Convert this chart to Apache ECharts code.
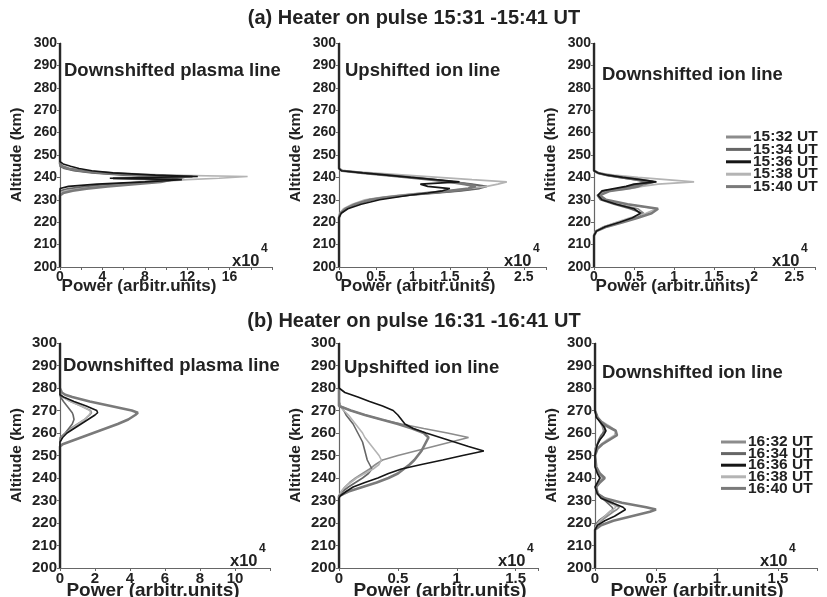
<!DOCTYPE html>
<html>
<head>
<meta charset="utf-8">
<script src="https://cdn.jsdelivr.net/npm/echarts@6/dist/echarts.min.js"></script>
<style>html,body{margin:0;padding:0;background:#fff}#c{width:827px;height:597px}</style>
</head>
<body>
<div id="c"></div>
<script>
// ---------- DATA (power in units of 10^4, altitude in km) ----------
const namesTop = ['15:32 UT', '15:34 UT', '15:36 UT', '15:38 UT', '15:40 UT'];
const namesBot = ['16:32 UT', '16:34 UT', '16:36 UT', '16:38 UT', '16:40 UT'];
const altTicks = [200, 210, 220, 230, 240, 250, 260, 270, 280, 290, 300];

// (a) Downshifted plasma line
const altA1 = [200, 232, 233, 234, 235, 236, 237, 238, 239, 239.6, 240.4, 241, 242, 243, 244, 245, 246, 247, 300];
const a1_1532 = [0, 0, 0, 0.3, 1.5, 3.5, 6, 8.5, 10.5, 11.5, 12, 7, 3.5, 1.5, 0.6, 0.2, 0, 0, 0];
const a1_1534 = [0, 0, 0, 0, 0.8, 2.5, 5, 8, 10, 11, 11.5, 6, 3, 1.3, 0.4, 0, 0, 0, 0];
const a1_1536 = [0, 0, 0, 0, 0, 0.8, 3.5, 8, 11.5, 4.7, 13, 9, 5, 3, 1.8, 1, 0.3, 0, 0];
const a1_1538 = [0, 0, 0, 0.5, 2, 4, 6.5, 9, 12, 15, 17.7, 10, 5, 2.2, 0.8, 0.2, 0, 0, 0];
const a1_1540 = [0, 0, 0.3, 1.2, 2.5, 4.5, 7, 9.5, 10.5, 5, 12.5, 7.5, 4, 2, 0.8, 0.2, 0, 0, 0];

// (a) Upshifted ion line
const altA2 = [200, 222, 224, 226, 228, 230, 231, 232, 233, 234, 235, 236, 237, 238, 239, 240, 241, 242, 243, 244, 300];
const a2_1532 = [0, 0, 0.02, 0.08, 0.2, 0.4, 0.6, 0.9, 1.25, 1.6, 1.85, 1.95, 1.75, 1.5, 1.25, 0.95, 0.65, 0.32, 0.04, 0, 0];
const a2_1534 = [0, 0, 0.02, 0.1, 0.22, 0.45, 0.65, 0.95, 1.3, 1.65, 1.9, 2.0, 1.8, 1.55, 1.28, 0.97, 0.65, 0.33, 0.04, 0, 0];
const a2_1536 = [0, 0, 0.03, 0.12, 0.3, 0.55, 0.75, 0.95, 1.2, 1.4, 1.5, 1.2, 1.1, 1.63, 1.3, 0.97, 0.65, 0.32, 0.03, 0, 0];
const a2_1538 = [0, 0, 0.01, 0.06, 0.18, 0.35, 0.55, 0.8, 1.1, 1.45, 1.75, 2.0, 2.15, 2.27, 1.8, 1.35, 0.9, 0.45, 0.05, 0, 0];
const a2_1540 = [0, 0, 0.02, 0.09, 0.22, 0.42, 0.62, 0.9, 1.2, 1.5, 1.75, 1.85, 1.7, 1.5, 1.25, 0.95, 0.64, 0.32, 0.04, 0, 0];

// (a) Downshifted ion line
const altA3 = [200, 214, 216, 218, 220, 222, 224, 226, 228, 230, 232, 234, 235, 236, 237, 238, 239, 240, 241, 242, 243, 300];
const a3_1532 = [0, 0, 0.03, 0.15, 0.33, 0.5, 0.62, 0.55, 0.3, 0.1, 0.05, 0.15, 0.35, 0.5, 0.6, 0.72, 0.55, 0.35, 0.17, 0.05, 0, 0];
const a3_1534 = [0, 0, 0.02, 0.12, 0.3, 0.55, 0.6, 0.45, 0.25, 0.08, 0.04, 0.12, 0.3, 0.45, 0.55, 0.65, 0.5, 0.32, 0.15, 0.04, 0, 0];
const a3_1536 = [0, 0, 0.03, 0.14, 0.32, 0.48, 0.58, 0.5, 0.28, 0.1, 0.05, 0.1, 0.25, 0.4, 0.5, 0.78, 0.58, 0.36, 0.17, 0.05, 0, 0];
const a3_1538 = [0, 0, 0.02, 0.12, 0.28, 0.45, 0.65, 0.78, 0.4, 0.12, 0.06, 0.18, 0.45, 0.6, 0.8, 1.25, 0.9, 0.55, 0.25, 0.07, 0, 0];
const a3_1540 = [0, 0, 0.03, 0.16, 0.36, 0.55, 0.72, 0.8, 0.42, 0.15, 0.07, 0.2, 0.4, 0.55, 0.62, 0.74, 0.56, 0.35, 0.17, 0.05, 0, 0];

// (b) Downshifted plasma line
const altB1 = [200, 253, 254, 255, 256, 258, 260, 262, 264, 266, 268, 269, 270, 272, 274, 276, 277, 278, 280, 300];
const b1_1632 = [0, 0, 0, 0, 0, 0, 0.3, 0.6, 1.0, 1.4, 1.7, 1.8, 1.75, 1.2, 0.6, 0.15, 0.05, 0, 0, 0];
const b1_1634 = [0, 0, 0, 0, 0, 0.05, 0.3, 0.5, 0.7, 0.8, 0.75, 0.7, 0.6, 0.4, 0.2, 0.03, 0, 0, 0, 0];
const b1_1636 = [0, 0, 0, 0, 0, 0.15, 0.4, 0.8, 1.2, 1.6, 2.0, 2.15, 2.1, 1.5, 0.8, 0.2, 0, 0, 0, 0];
const b1_1638 = [0, 0, 0, 0, 0, 0.1, 0.35, 0.7, 1.05, 1.4, 1.65, 1.75, 1.7, 1.2, 0.6, 0.15, 0.05, 0, 0, 0];
const b1_1640 = [0, 0, 0, 0.15, 0.5, 1.2, 1.9, 2.6, 3.3, 3.9, 4.3, 4.45, 4.1, 2.9, 1.7, 0.7, 0.3, 0.1, 0, 0];

// (b) Upshifted ion line
const altB2 = [200, 231, 232, 234, 236, 238, 240, 242, 244, 246, 248, 250, 252, 254, 256, 258, 260, 262, 264, 266, 268, 270, 272, 274, 276, 278, 280, 300];
const b2_1632 = [0, 0, 0, 0.02, 0.05, 0.09, 0.14, 0.2, 0.26, 0.31, 0.37, 0.5, 0.65, 0.8, 0.95, 1.1, 0.92, 0.72, 0.53, 0.36, 0.22, 0.1, 0.01, 0, 0, 0, 0, 0];
const b2_1634 = [0, 0, 0, 0.03, 0.08, 0.14, 0.2, 0.25, 0.28, 0.26, 0.24, 0.23, 0.22, 0.21, 0.2, 0.18, 0.16, 0.14, 0.12, 0.09, 0.06, 0.04, 0.01, 0, 0, 0, 0, 0];
const b2_1636 = [0, 0, 0.01, 0.06, 0.12, 0.22, 0.33, 0.42, 0.53, 0.7, 0.88, 1.05, 1.23, 1.1, 0.98, 0.86, 0.74, 0.63, 0.56, 0.53, 0.5, 0.46, 0.37, 0.26, 0.16, 0.05, 0, 0];
const b2_1638 = [0, 0, 0, 0.02, 0.05, 0.1, 0.15, 0.22, 0.29, 0.34, 0.36, 0.34, 0.31, 0.28, 0.25, 0.22, 0.2, 0.17, 0.14, 0.11, 0.08, 0.04, 0.01, 0, 0, 0, 0, 0];
const b2_1640 = [0, 0, 0, 0.08, 0.2, 0.32, 0.42, 0.5, 0.55, 0.6, 0.64, 0.67, 0.7, 0.72, 0.74, 0.76, 0.72, 0.62, 0.5, 0.36, 0.22, 0.1, 0, 0, 0, 0, 0, 0];

// (b) Downshifted ion line
const altB3 = [200, 217, 219, 221, 223, 225, 226, 227, 229, 231, 233, 236, 238, 240, 242, 245, 250, 253, 255, 257, 259, 261, 263, 265, 267, 270, 300];
const b3_1632 = [0, 0, 0, 0.05, 0.1, 0.15, 0.18, 0.2, 0.12, 0.05, 0.02, 0.01, 0.03, 0.05, 0.02, 0, 0, 0, 0.02, 0.04, 0.06, 0.07, 0.06, 0.04, 0.02, 0, 0];
const b3_1634 = [0, 0, 0, 0.03, 0.08, 0.12, 0.15, 0.14, 0.1, 0.06, 0.02, 0.01, 0.04, 0.07, 0.03, 0.01, 0, 0.01, 0.02, 0.03, 0.05, 0.08, 0.08, 0.05, 0.02, 0, 0];
const b3_1636 = [0, 0, 0.02, 0.08, 0.16, 0.22, 0.25, 0.23, 0.14, 0.05, 0.02, 0, 0.02, 0.04, 0.02, 0, 0, 0.01, 0.02, 0.04, 0.07, 0.09, 0.07, 0.04, 0.01, 0, 0];
const b3_1638 = [0, 0, 0.01, 0.04, 0.08, 0.12, 0.15, 0.17, 0.15, 0.08, 0.03, 0.01, 0.03, 0.06, 0.03, 0.01, 0, 0.01, 0.05, 0.1, 0.16, 0.17, 0.12, 0.06, 0.02, 0, 0];
const b3_1640 = [0, 0, 0.05, 0.15, 0.3, 0.45, 0.5, 0.42, 0.22, 0.08, 0.02, 0.01, 0.04, 0.08, 0.04, 0.01, 0, 0.02, 0.06, 0.12, 0.18, 0.17, 0.1, 0.05, 0.02, 0, 0];

const titleA = '(a) Heater on pulse 15:31 -15:41 UT';
const titleB = '(b) Heater on pulse 16:31 -16:41 UT';
const panelTitles = ['Downshifted plasma line', 'Upshifted ion line', 'Downshifted ion line',
                     'Downshifted plasma line', 'Upshifted ion line', 'Downshifted ion line'];
const xTickLabelsTop1 = [0, 4, 8, 12, 16];
const xTickLabelsHalf = [0, 0.5, 1, 1.5, 2, 2.5];
const xTickLabelsBot1 = [0, 2, 4, 6, 8, 10];
const xTickLabelsBot2 = [0, 0.5, 1, 1.5];

// ---------- LAYOUT / STYLE ----------
const FONT = '"Liberation Sans", Arial, sans-serif';
const lineColors = ['#8c8c8c', '#666666', '#151515', '#b4b4b4', '#7a7a7a'];
const lineWidths = [1.6, 1.6, 1.6, 1.6, 2.6];

const panels = [
  {alt: altA1, ser: [a1_1532, a1_1534, a1_1536, a1_1538, a1_1540], names: namesTop, labels: xTickLabelsTop1,
   grid: {left: 60, top: 43, width: 212, height: 224}, xmax: 20, xint: 2, fs: 14},
  {alt: altA2, ser: [a2_1532, a2_1534, a2_1536, a2_1538, a2_1540], names: namesTop, labels: xTickLabelsHalf,
   grid: {left: 339, top: 43, width: 207, height: 224}, xmax: 2.8, xint: 0.5, fs: 14},
  {alt: altA3, ser: [a3_1532, a3_1534, a3_1536, a3_1538, a3_1540], names: namesTop, labels: xTickLabelsHalf,
   grid: {left: 594, top: 43, width: 221, height: 224}, xmax: 2.76, xint: 0.5, fs: 14},
  {alt: altB1, ser: [b1_1632, b1_1634, b1_1636, b1_1638, b1_1640], names: namesBot, labels: xTickLabelsBot1,
   grid: {left: 60, top: 343, width: 210, height: 225}, xmax: 12, xint: 2, fs: 15},
  {alt: altB2, ser: [b2_1632, b2_1634, b2_1636, b2_1638, b2_1640], names: namesBot, labels: xTickLabelsBot2,
   grid: {left: 339, top: 343, width: 199, height: 225}, xmax: 1.69, xint: 0.5, fs: 15},
  {alt: altB3, ser: [b3_1632, b3_1634, b3_1636, b3_1638, b3_1640], names: namesBot, labels: xTickLabelsBot2,
   grid: {left: 595, top: 343, width: 222, height: 225}, xmax: 1.82, xint: 0.5, fs: 15}
];

const grids = [], xAxes = [], yAxes = [], series = [];
panels.forEach((p, k) => {
  grids.push(Object.assign({containLabel: false}, p.grid));
  xAxes.push({
    type: 'value', gridIndex: k, min: 0, max: p.xmax, interval: p.xint,
    axisLine: {show: true, onZero: false, lineStyle: {color: '#666', width: 1}},
    axisTick: {show: true, length: 3, lineStyle: {color: '#666'}},
    splitLine: {show: false},
    axisLabel: {
      color: '#222', fontFamily: FONT, fontWeight: 'bold', fontSize: p.fs, margin: 3,
      formatter: v => p.labels.some(l => Math.abs(l - v) < 1e-6) ? String(v) : ''
    }
  });
  yAxes.push({
    type: 'value', gridIndex: k, min: 200, max: 300, interval: 10,
    name: 'Altitude (km)', nameLocation: 'middle', nameRotate: 90, nameGap: 35,
    nameTextStyle: {color: '#222', fontFamily: FONT, fontWeight: 'bold', fontSize: 15.5},
    axisLine: {show: true, onZero: false, lineStyle: {color: '#666', width: 1.2}},
    axisTick: {show: true, length: 3, lineStyle: {color: '#666'}},
    splitLine: {show: false},
    axisLabel: {color: '#222', fontFamily: FONT, fontWeight: 'bold', fontSize: p.fs, margin: 3,
      formatter: v => altTicks.includes(v) ? String(v) : ''}
  });
  p.ser.forEach((pw, j) => {
    series.push({
      type: 'line', name: p.names[j], xAxisIndex: k, yAxisIndex: k,
      data: p.alt.map((a, i) => [pw[i], a]),
      showSymbol: false, symbol: 'none', smooth: false, animation: false,
      color: lineColors[j],
      lineStyle: {color: lineColors[j], width: lineWidths[j]},
      z: j === 2 ? 5 : 3
    });
  });
});

const txt = (x, y, text, size, align) => ({
  type: 'text', x: x, y: y, silent: true,
  style: {text: text, fill: '#222', font: 'bold ' + size + 'px ' + FONT, textAlign: align || 'left', textVerticalAlign: 'middle'}
});

const graphic = [
  txt(414, 18, titleA, 20, 'center'),
  txt(414, 321, titleB, 20, 'center'),
  txt(64, 71, panelTitles[0], 18.5), txt(345, 71, panelTitles[1], 18.5), txt(602, 75, panelTitles[2], 18.5),
  txt(63, 366, panelTitles[3], 18.5), txt(344, 368, panelTitles[4], 18.5), txt(602, 373, panelTitles[5], 18.5),
  txt(139, 286, 'Power (arbitr.units)', 17, 'center'),
  txt(418, 286, 'Power (arbitr.units)', 17, 'center'),
  txt(673, 286, 'Power (arbitr.units)', 17, 'center'),
  txt(153, 591, 'Power (arbitr.units)', 19, 'center'),
  txt(440, 591, 'Power (arbitr.units)', 19, 'center'),
  txt(697, 591, 'Power (arbitr.units)', 19, 'center'),
  // x10^4 multipliers
  txt(232, 261, 'x10', 16.5), txt(261, 249, '4', 12),
  txt(504, 261, 'x10', 16.5), txt(533, 249, '4', 12),
  txt(772, 261, 'x10', 16.5), txt(801, 249, '4', 12),
  txt(230, 561, 'x10', 16.5), txt(259, 549, '4', 12),
  txt(498, 561, 'x10', 16.5), txt(527, 549, '4', 12),
  txt(760, 561, 'x10', 16.5), txt(789, 549, '4', 12)
];

const legendBase = {
  orient: 'vertical', itemWidth: 25, itemHeight: 3,
  icon: 'rect', selectedMode: false,
  textStyle: {color: '#222', fontFamily: FONT, fontWeight: 'bold', fontSize: 15.5, lineHeight: 12, padding: [0, 0, 0, -3]}
};

const chart = echarts.init(document.getElementById('c'), null, {renderer: 'canvas'});
chart.setOption({
  backgroundColor: '#fff',
  animation: false,
  grid: grids, xAxis: xAxes, yAxis: yAxes, series: series,
  legend: [
    Object.assign({}, legendBase, {left: 721, top: 124, data: namesTop, itemGap: -3.6}),
    Object.assign({}, legendBase, {left: 716, top: 429, data: namesBot, itemGap: -4.4})
  ],
  graphic: graphic
});
</script>
</body>
</html>
